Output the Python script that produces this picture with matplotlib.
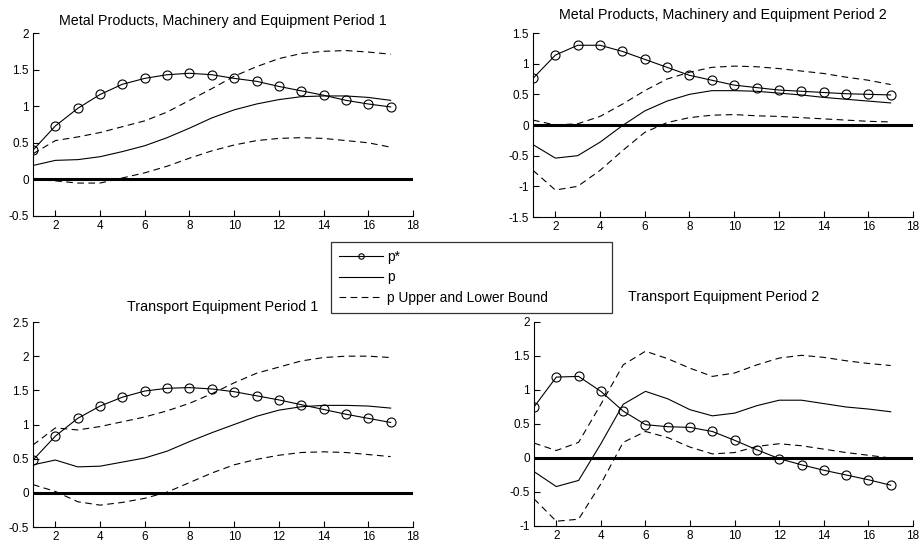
import matplotlib
matplotlib.use('Agg')
import matplotlib.pyplot as plt
import numpy as np

plt.rcParams['font.family'] = ['Liberation Sans', 'DejaVu Sans']

x = np.arange(1, 18)

titles = ['Metal Products, Machinery and Equipment Period 1',
          'Metal Products, Machinery and Equipment Period 2',
          'Transport Equipment Period 1',
          'Transport Equipment Period 2']

# metal products, period 1
pstar1 = [0.40, 0.73, 0.97, 1.16, 1.30, 1.38, 1.43, 1.45, 1.43, 1.38, 1.34, 1.27, 1.21, 1.15, 1.08, 1.03, 0.99]
p1 = [0.19, 0.26, 0.27, 0.31, 0.38, 0.46, 0.57, 0.70, 0.84, 0.95, 1.03, 1.09, 1.13, 1.14, 1.14, 1.12, 1.08]
up1 = [0.35, 0.53, 0.58, 0.64, 0.72, 0.80, 0.92, 1.08, 1.24, 1.41, 1.54, 1.65, 1.72, 1.75, 1.76, 1.74, 1.71]
lo1 = [0.00, -0.02, -0.05, -0.05, 0.02, 0.09, 0.18, 0.29, 0.39, 0.47, 0.53, 0.56, 0.57, 0.56, 0.53, 0.50, 0.44]

# metal products, period 2
pstar2 = [0.76, 1.14, 1.30, 1.30, 1.20, 1.07, 0.94, 0.81, 0.73, 0.65, 0.61, 0.57, 0.55, 0.53, 0.51, 0.50, 0.49]
p2 = [-0.32, -0.54, -0.50, -0.28, -0.01, 0.23, 0.39, 0.50, 0.56, 0.56, 0.55, 0.52, 0.49, 0.45, 0.42, 0.39, 0.36]
up2 = [0.08, 0.00, 0.02, 0.14, 0.34, 0.56, 0.75, 0.86, 0.94, 0.96, 0.95, 0.92, 0.88, 0.84, 0.78, 0.73, 0.66]
lo2 = [-0.74, -1.06, -1.00, -0.74, -0.42, -0.12, 0.04, 0.12, 0.16, 0.17, 0.15, 0.14, 0.12, 0.10, 0.08, 0.06, 0.05]

# transport equipment, period 1
pstar3 = [0.48, 0.83, 1.09, 1.27, 1.40, 1.49, 1.53, 1.54, 1.52, 1.48, 1.42, 1.36, 1.29, 1.22, 1.15, 1.09, 1.03]
p3 = [0.41, 0.48, 0.38, 0.39, 0.45, 0.51, 0.61, 0.75, 0.88, 1.00, 1.12, 1.21, 1.26, 1.28, 1.28, 1.27, 1.24]
up3 = [0.70, 0.95, 0.92, 0.97, 1.04, 1.11, 1.20, 1.31, 1.45, 1.61, 1.75, 1.84, 1.93, 1.98, 2.00, 2.00, 1.98]
lo3 = [0.12, 0.02, -0.13, -0.18, -0.14, -0.08, 0.01, 0.15, 0.29, 0.41, 0.49, 0.55, 0.59, 0.60, 0.59, 0.56, 0.53]

# transport equipment, period 2
pstar4 = [0.75, 1.19, 1.20, 0.98, 0.69, 0.49, 0.46, 0.45, 0.39, 0.26, 0.12, -0.01, -0.10, -0.18, -0.25, -0.32, -0.40]
p4 = [-0.20, -0.42, -0.33, 0.21, 0.79, 0.98, 0.87, 0.71, 0.62, 0.66, 0.77, 0.85, 0.85, 0.80, 0.75, 0.72, 0.68]
up4 = [0.22, 0.11, 0.23, 0.79, 1.37, 1.57, 1.46, 1.32, 1.20, 1.25, 1.37, 1.47, 1.51, 1.48, 1.43, 1.39, 1.36]
lo4 = [-0.60, -0.93, -0.90, -0.38, 0.23, 0.39, 0.30, 0.16, 0.06, 0.08, 0.17, 0.21, 0.18, 0.13, 0.08, 0.04, 0.00]

ylims = [(-0.5, 2), (-1.5, 1.5), (-0.5, 2.5), (-1, 2)]
title_pads = [5.5, 10, 8, 15]

W, H = 921, 542
fig = plt.figure(figsize=(W / 100, H / 100), dpi=100)

# axes boxes in pixels: left, right, top, bottom
boxes = [(33, 413, 33, 216), (533, 913, 33, 217), (33, 413, 322, 527), (534, 913, 322, 526)]

panels = [(pstar1, p1, up1, lo1), (pstar2, p2, up2, lo2),
          (pstar3, p3, up3, lo3), (pstar4, p4, up4, lo4)]

handles = None
for i in range(4):
    l, r, t, b = boxes[i]
    ax = fig.add_axes([l / W, 1 - b / H, (r - l) / W, (b - t) / H])
    ps, pp, up, lo = panels[i]
    ax.plot([1, 18], [0, 0], color='black', lw=2.2, solid_capstyle='butt')
    h1, = ax.plot(x, ps, color='black', lw=0.8, marker='o', ms=6.5, mfc='none', mec='black', mew=0.8)
    h2, = ax.plot(x, pp, color='black', lw=0.8)
    h3, = ax.plot(x, up, color='black', lw=0.8, dashes=(6, 4))
    ax.plot(x, lo, color='black', lw=0.8, dashes=(6, 4))
    if handles is None:
        handles = [h1, h2, h3]
    ax.set_xlim(1, 18)
    ax.set_ylim(*ylims[i])
    ax.set_xticks(np.arange(2, 19, 2))
    ax.set_yticks(np.arange(ylims[i][0], ylims[i][1] + 0.01, 0.5))
    ax.yaxis.set_major_formatter(matplotlib.ticker.FormatStrFormatter('%g'))
    ax.spines['top'].set_visible(False)
    ax.spines['right'].set_visible(False)
    for s in ['left', 'bottom']:
        ax.spines[s].set_linewidth(0.8)
    ax.tick_params(direction='in', length=4, width=0.8, labelsize=8.5, pad=3)
    ax.set_title(titles[i], fontsize=10.3, pad=title_pads[i])

leg = fig.legend(handles, ['p*', 'p', 'p Upper and Lower Bound'],
                 loc='upper left', bbox_to_anchor=(331 / W, 1 - 313 / H, 281 / W, 71 / H),
                 mode='expand', fancybox=False, edgecolor='black', fontsize=9.9,
                 handlelength=3.2, markerscale=0.6, borderaxespad=0,
                 labelspacing=0.45, borderpad=0.6, handletextpad=0.3)
leg.get_frame().set_linewidth(0.9)

fig.savefig('out.png', dpi=100)
